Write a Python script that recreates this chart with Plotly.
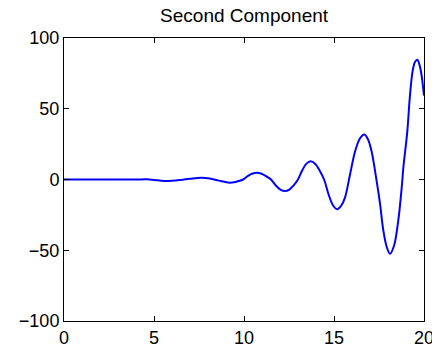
import plotly.graph_objects as go

# Curve (x, value)
x_vals = [0, 1, 2, 3, 4, 4.6, 5.0, 5.4, 5.8, 6.2, 6.6, 7.0, 7.6, 8.1, 8.6,
          9.2, 9.45, 9.7, 9.95, 10.2, 10.45, 10.7, 10.97, 11.23, 11.5, 11.76, 12.02,
          12.28, 12.52, 12.76, 13.0, 13.23, 13.47, 13.7, 13.95, 14.2, 14.45, 14.7, 14.95,
          15.17, 15.4, 15.61, 15.89, 16.17, 16.44, 16.69, 16.9, 17.09, 17.37, 17.56, 17.74,
          17.93, 18.11, 18.33, 18.57, 18.76, 18.85, 19.07, 19.22, 19.37, 19.5, 19.63,
          19.75, 19.87, 20.0]
y_vals = [0, 0, 0, 0, 0, 0.1, -0.3, -0.8, -1.0, -0.7, -0.1, 0.5, 1.2, 0.7, -0.8,
          -2.3, -2.0, -1.1, 0, 2.4, 4.1, 4.7, 4.1, 2.4, 0, -4.1, -7.1,
          -8.2, -7.1, -4.1, 0, 6.4, 11.2, 12.9, 11.2, 6.4, 0, -10.6, -18.4,
          -21.0, -18.5, -12.8, 3.5, 19.8, 29.0, 31.8, 28.0, 19.8, -1.2, -17.4, -36.0,
          -47.7, -52.5, -47.0, -29.0, -5.9, 8.1, 33.7, 59.3, 76.8, 83.0, 84.6,
          81.0, 73.3, 59.3]

title_text = "Second Component"
x_ticks = [0, 5, 10, 15, 20]
y_ticks = [-100, -50, 0, 50, 100]

fig = go.Figure()
fig.add_trace(go.Scatter(x=x_vals, y=y_vals, mode="lines",
                         line=dict(color="#0000ff", width=2, shape="spline", smoothing=1.0),
                         showlegend=False, hoverinfo="skip"))

axis_common = dict(showgrid=False, zeroline=False, showline=True, linecolor="black",
                   linewidth=1, mirror="ticks", ticks="inside", ticklen=5,
                   tickcolor="black", tickwidth=1, automargin=False,
                   ticklabeloverflow="allow",
                   tickfont=dict(family="Liberation Sans, Arial, sans-serif", size=18, color="black"))

fig.update_layout(
    width=432, height=349,
    margin=dict(l=64, r=8, t=38, b=28),
    paper_bgcolor="white", plot_bgcolor="white",
    title=dict(text=title_text, x=0.565, xanchor="center", y=0.956, yanchor="middle",
               font=dict(family="Liberation Sans, Arial, sans-serif", size=19, color="black")),
    xaxis=dict(range=[0, 20], tickvals=x_ticks, **axis_common),
    yaxis=dict(range=[-100, 100], tickvals=y_ticks, **axis_common),
)

fig.write_html("out.html",
               config={"displayModeBar": False, "staticPlot": True},
               post_script="document.body.style.margin='0';document.body.style.overflow='hidden';")
